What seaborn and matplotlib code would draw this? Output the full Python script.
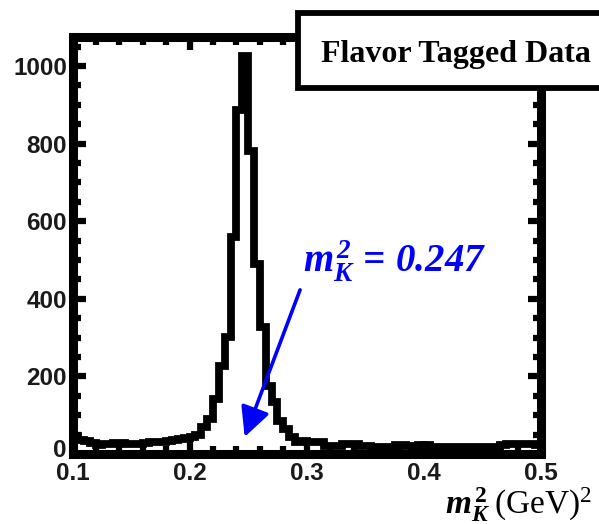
import numpy as np
import pandas as pd
import matplotlib
matplotlib.use("Agg")
import matplotlib.pyplot as plt
import seaborn as sns
from matplotlib.ticker import MultipleLocator
from matplotlib.patches import Rectangle
from matplotlib.transforms import ScaledTranslation

# Histogram of kaon mass-squared for flavor tagged events (bin width 0.005 GeV^2)
bin_width = 0.005
m2_range = (0.1, 0.5)
bin_starts = [round(0.1 + 0.005 * i, 3) for i in range(80)]
counts = [
    47, 35, 34, 28, 23, 26, 26, 28, 28, 26,
    26, 26, 29, 30, 30, 30, 33, 36, 38, 41,
    45, 50, 69, 90, 142, 228, 302, 559, 887, 1025,
    782, 490, 327, 176, 133, 86, 64, 43, 31, 33,
    32, 32, 30, 21, 21, 21, 27, 27, 26, 21,
    21, 17, 17, 19, 19, 23, 23, 20, 17, 23,
    23, 17, 17, 18, 19, 19, 19, 19, 19, 19,
    19, 19, 19, 24, 27, 27, 27, 27, 25, 22,
]

x_ticks = [0.1, 0.2, 0.3, 0.4, 0.5]
x_tick_labels = ["0.1", "0.2", "0.3", "0.4", "0.5"]
y_ticks = [0, 200, 400, 600, 800, 1000]
y_tick_labels = ["0", "200", "400", "600", "800", "1000"]

fit_value = 0.247
arrow_tip_count = 44
arrow_tail = (0.2943, 423)

legend_text = "Flavor Tagged Data"

sns.set_theme(style="ticks")
plt.rcParams["font.family"] = ["Liberation Sans", "DejaVu Sans"]
plt.rcParams["mathtext.fontset"] = "custom"
plt.rcParams["mathtext.rm"] = "Liberation Serif"
plt.rcParams["mathtext.it"] = "Liberation Serif:italic"
plt.rcParams["mathtext.bf"] = "Liberation Serif:bold"
plt.rcParams["mathtext.bfit"] = "Liberation Serif:italic:bold"

W, H = 599, 524
fig = plt.figure(figsize=(W / 100, H / 100), dpi=100)
fig.patch.set_facecolor("white")

left_px, right_px, top_px, bottom_px = 72.5, 541.0, 36.5, 454.0
ax = fig.add_axes([left_px / W, 1 - bottom_px / H,
                   (right_px - left_px) / W, (bottom_px - top_px) / H])
ax.set_facecolor("white")

df = pd.DataFrame({"m2": np.array(bin_starts) + bin_width / 2, "n": counts})
sns.histplot(data=df, x="m2", weights="n", binwidth=bin_width, binrange=m2_range,
             element="step", fill=False, color="black", linewidth=5.6, ax=ax)
for ln in ax.lines:
    ln.set_solid_joinstyle("miter")
    ln.set_solid_capstyle("butt")

ax.set_xlim(*m2_range)
ax.set_ylim(0, 1076)
ax.set_xlabel("")
ax.set_ylabel("")

ax.set_xticks(x_ticks)
ax.set_xticklabels(x_tick_labels)
ax.set_yticks(y_ticks)
ax.set_yticklabels(y_tick_labels)
ax.xaxis.set_minor_locator(MultipleLocator(0.02))
ax.yaxis.set_minor_locator(MultipleLocator(50))

for sp in ax.spines.values():
    sp.set_visible(True)
    sp.set_linewidth(6.5)
    sp.set_color("black")

ax.tick_params(which="both", direction="in", top=True, right=True,
               color="black", width=4.5)
ax.tick_params(which="major", length=9.5)
ax.tick_params(which="minor", length=5.5)
ax.tick_params(axis="y", which="major", pad=4, labelsize=17.5, labelcolor="#1a1a1a")
ax.tick_params(axis="x", which="major", pad=6, labelsize=17.5, labelcolor="#1a1a1a")
for lab in ax.get_xticklabels() + ax.get_yticklabels():
    lab.set_fontweight("bold")

# lift the zero count label a little so it clears the 0.1 label below it
zero_lab = ax.yaxis.get_major_ticks()[0].label1
zero_lab.set_transform(zero_lab.get_transform()
                       + ScaledTranslation(0, 4 / 72, fig.dpi_scale_trans))

# Arrow marking the fitted kaon mass-squared
ax.annotate("", xy=(fit_value, arrow_tip_count), xytext=arrow_tail,
            arrowprops=dict(arrowstyle="-|>,head_length=0.9,head_width=0.45",
                            color="#0000ff", lw=2.6, shrinkA=0, shrinkB=0,
                            mutation_scale=20))
fig.text(303 / W, 1 - 272 / H,
         r"$\mathbfit{m}_{\mathbfit{K}}^{\,\mathbfit{2}}\mathbfit{\,=\,0.247}$",
         color="#0000ff", fontsize=28, ha="left", va="baseline")

# Axis title at lower right
fig.text(592 / W, 1 - 514 / H,
         r"$\mathbfit{m}_{\mathbfit{K}}^{\,\mathbf{2}}\;\mathrm{(GeV)}^{2}$",
         color="black", fontsize=24, ha="right", va="baseline")

# Title box in the upper right corner
box = Rectangle((298 / W, 1 - 88 / H), (640 - 298) / W, (88 - 13) / H,
                transform=fig.transFigure, facecolor="white", edgecolor="black",
                linewidth=4.2, zorder=10, clip_on=False)
fig.patches.append(box)
fig.text(456 / W, 1 - 62 / H, legend_text, fontsize=23, fontweight="bold",
         family=["Liberation Serif", "DejaVu Serif"], ha="center", va="baseline",
         color="black", zorder=11)

fig.savefig("out.png", dpi=100, facecolor="white")
